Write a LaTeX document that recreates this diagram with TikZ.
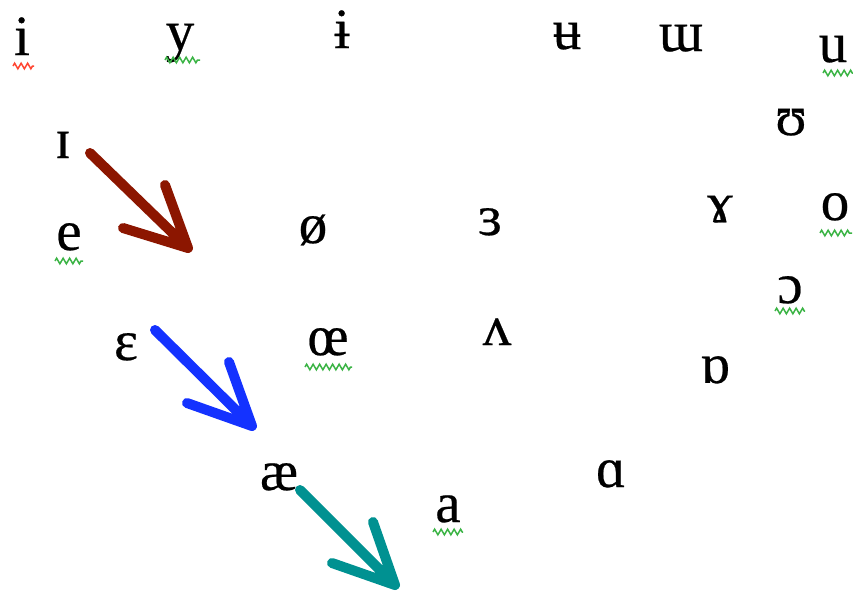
\documentclass[tikz,border=0pt]{standalone}
\usepackage{fontspec}
\setmainfont{Liberation Serif}
\newfontfamily\ipafont{Liberation Serif}[FakeBold=0.4]
\usetikzlibrary{decorations.pathmorphing}
\definecolor{arrowred}{RGB}{140,22,0}
\definecolor{arrowblue}{RGB}{20,50,255}
\definecolor{arrowteal}{RGB}{0,145,145}
\definecolor{spellred}{RGB}{255,70,50}
\definecolor{spellgreen}{RGB}{60,180,70}
\begin{document}
\begin{tikzpicture}[x=1pt,y=-1pt,
  vowel/.style={anchor=base,inner sep=0pt,font=\ipafont\fontsize{57}{60}\selectfont},
  shiftarrow/.style={line width=10pt,line cap=round,line join=round},
  squiggle/.style={line width=1.5pt,decorate,decoration={zigzag,segment length=6.5pt,amplitude=2.8pt}}]
\useasboundingbox (0,0) rectangle (853,590);
% vowel symbols
\node[vowel] (vi)  at (22,55)  {i};
\node[vowel] (vy)  at (180,50) {y};
\node[vowel] (vib) at (342,48) {ɨ};
\node[vowel] (vub) at (567,49) {ʉ};
\node[vowel] (vm)  at (681,51) {ɯ};
\node[vowel] (vu)  at (833,62) {u};
\node[vowel] (vI)  at (63,158) {ɪ};
\node[vowel] (vU)  at (791,135) {ʊ};
\node[vowel] (ve)  at (69,250) {e};
\node[vowel] (vo2) at (313,243) {ø};
\node[vowel] (v3)  at (490,235) {ɜ};
\node[vowel] (vram) at (720,222) {ɤ};
\node[vowel] (vo)  at (835,220) {o};
\node[vowel] (vc)  at (790,303) {ɔ};
\node[vowel] (vE)  at (126,360) {ɛ};
\node[vowel] (voe) at (328,355) {œ};
\node[vowel] (vv)  at (497,345) {ʌ};
\node[vowel] (vQ)  at (715,383) {ɒ};
\node[vowel] (vae) at (279,490) {æ};
\node[vowel] (va)  at (448,522) {a};
\node[vowel] (vA)  at (611,487) {ɑ};
% underline marks
\draw[squiggle,spellred]   (13,66)  -- (34,66);
\draw[squiggle,spellgreen] (165,60) -- (200,60);
\draw[squiggle,spellgreen] (823,73) -- (853,73);
\draw[squiggle,spellgreen] (55,261) -- (83,261);
\draw[squiggle,spellgreen] (820,233) -- (852,233);
\draw[squiggle,spellgreen] (775,311) -- (805,311);
\draw[squiggle,spellgreen] (305,367) -- (352,367);
\draw[squiggle,spellgreen] (433,532) -- (463,532);
% shift arrows
\coordinate (r0) at (90,153);  \coordinate (r1) at (188,248);
\coordinate (rw1) at (165,185); \coordinate (rw2) at (123,228);
\coordinate (b0) at (155,330); \coordinate (b1) at (252,426);
\coordinate (bw1) at (229,362); \coordinate (bw2) at (187,403);
\coordinate (t0) at (300,490); \coordinate (t1) at (395,585);
\coordinate (tw1) at (373,522); \coordinate (tw2) at (332,563);
\draw[shiftarrow,arrowred]  (r0) -- (r1) (rw1) -- (r1) -- (rw2);
\draw[shiftarrow,arrowblue] (b0) -- (b1) (bw1) -- (b1) -- (bw2);
\draw[shiftarrow,arrowteal] (t0) -- (t1) (tw1) -- (t1) -- (tw2);
\end{tikzpicture}
\end{document}
